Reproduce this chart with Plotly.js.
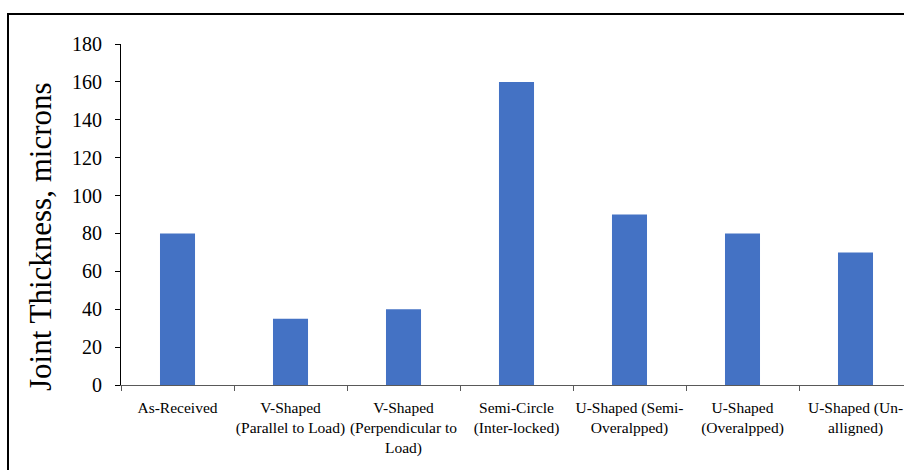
<!DOCTYPE html>
<html>
<head>
<meta charset="utf-8">
<script src="https://cdn.plot.ly/plotly-3.0.1.min.js"></script>
<style>
  html, body { margin: 0; padding: 0; overflow: hidden; width: 904px; height: 470px; background: #fff; }
  #frame { position: absolute; left: 7px; top: 13px; width: 1000px; height: 1000px;
           border-left: 2px solid #000; border-top: 2px solid #000; }
  #chart { position: absolute; left: 0; top: 0; }
</style>
</head>
<body>
<div id="frame"></div>
<div id="chart"></div>
<script>
const categories = [
  "As-Received",
  "V-Shaped<br>(Parallel to Load)",
  "V-Shaped<br>(Perpendicular to<br>Load)",
  "Semi-Circle<br>(Inter-locked)",
  "U-Shaped (Semi-<br>Overalpped)",
  "U-Shaped<br>(Overalpped)",
  "U-Shaped (Un-<br>alligned)"
];
const thickness = [80, 35, 40, 160, 90, 80, 70];
const yTitle = "Joint Thickness, microns";

const serif = "Liberation Serif, Times New Roman, serif";

const data = [{
  type: "bar",
  x: categories,
  y: thickness,
  marker: { color: "#4472C4" },
  hoverinfo: "x+y"
}];

const layout = {
  width: 930,
  height: 470,
  margin: { l: 121, r: 18, t: 44, b: 85 },
  paper_bgcolor: "rgba(0,0,0,0)",
  plot_bgcolor: "rgba(0,0,0,0)",
  showlegend: false,
  bargap: 0.69,
  font: { family: serif, color: "#000" },
  xaxis: {
    type: "category",
    tickson: "boundaries",
    ticks: "outside",
    ticklen: 5,
    tickcolor: "#595959",
    showline: true,
    linecolor: "#595959",
    linewidth: 1,
    showgrid: false,
    tickangle: 0,
    ticklabelstandoff: 8,
    tickfont: { family: serif, size: 15.5, color: "#000" }
  },
  yaxis: {
    range: [0, 180],
    dtick: 20,
    ticks: "outside",
    ticklen: 5,
    tickcolor: "#000",
    showline: true,
    linecolor: "#000",
    linewidth: 1,
    showgrid: false,
    zeroline: false,
    ticklabelstandoff: 9,
    tickfont: { family: serif, size: 20, color: "#000" }
  },
  annotations: [{
    text: yTitle,
    xref: "paper", yref: "paper",
    x: -0.1024, y: 0.434,
    xanchor: "center", yanchor: "middle",
    textangle: -90,
    showarrow: false,
    font: { family: serif, size: 31, color: "#000" }
  }]
};

Plotly.newPlot("chart", data, layout, { displayModeBar: false, staticPlot: true });
</script>
</body>
</html>
